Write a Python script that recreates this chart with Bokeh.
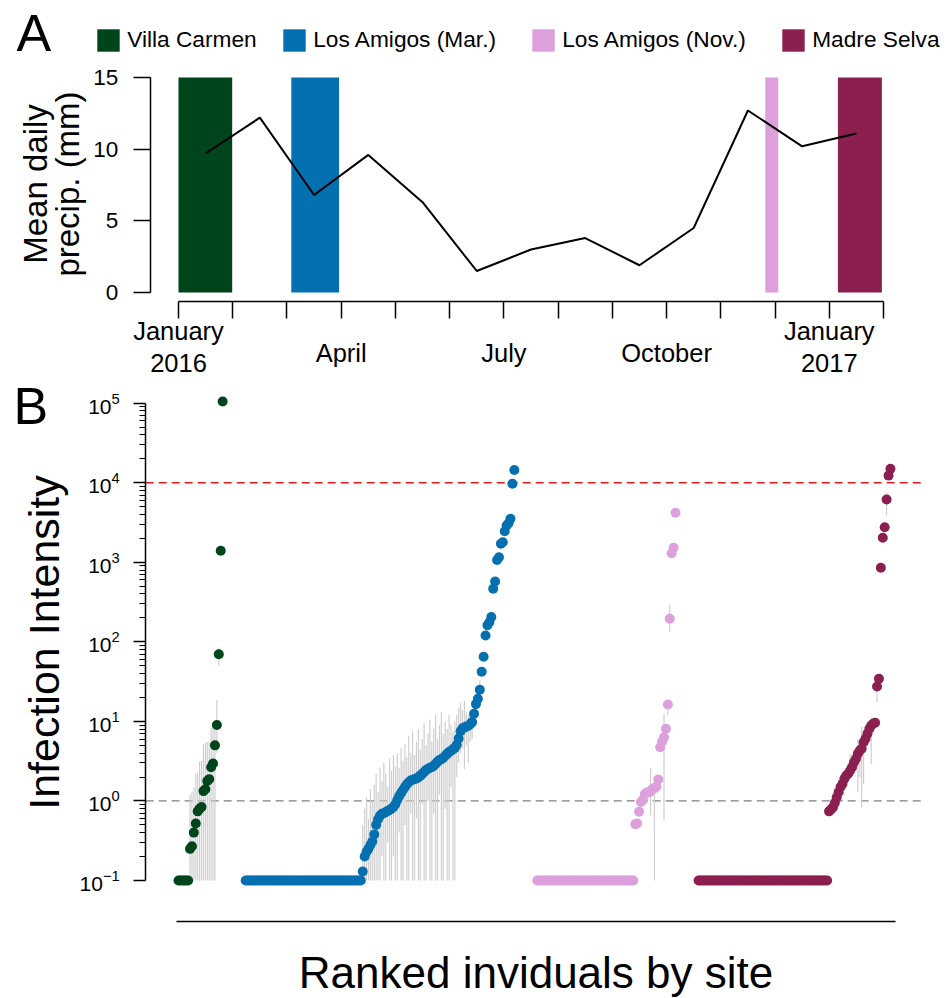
import math
import numpy as np
from bokeh.plotting import figure
from bokeh.models import Range1d, FixedTicker, Label, Legend, LegendItem
from bokeh.layouts import column
from bokeh.embed import file_html
from bokeh.resources import INLINE

FONT = "Liberation Sans"

# ---------------- Panel A data ----------------
month_ticks = list(range(14))  # Jan 2016 ... Feb 2017 (month starts)
month_labels = ["January\n2016", "", "", "April", "", "", "July", "", "",
                "October", "", "", "January\n2017", ""]
precip_month = [0.5, 1.5, 2.5, 3.5, 4.5, 5.5, 6.5, 7.5, 8.5, 9.5, 10.5, 11.5, 12.5]
precip_mm = [9.7, 12.2, 6.8, 9.6, 6.3, 1.5, 3.0, 3.8, 1.9, 4.5, 12.7, 10.2, 11.1]
precip_ticks = [0, 5, 10, 15]

site_names = ["Villa Carmen", "Los Amigos (Mar.)", "Los Amigos (Nov.)", "Madre Selva"]
site_colors = ["#00441B", "#0570B0", "#DDA0DD", "#8B1F50"]
survey_start = [0.0, 2.08, 10.82, 12.16]
survey_end = [0.99, 2.96, 11.06, 12.97]

# ---------------- Panel B data ----------------
zero_counts = [6, 61, 51, 68]
vc_pos = [0.25, 0.27, 0.40, 0.52, 0.74, 0.80, 0.84, 1.33, 1.40, 1.78, 1.88, 2.65, 2.95,
          5.0, 9.0, 70, 1400, 105000]
vc_lo = [0.1, 0.1, 0.1, 0.1, 0.1, 0.1, 0.1, 0.1, 0.1, 0.1, 0.1, 0.1, 0.1,
         0.1, 4.0, 50, 1400, 105000]
vc_hi = [1.2, 1.3, 1.5, 2.2, 2.3, 3.1, 3.2, 5.2, 5.4, 5.5, 5.6, 8.3, 9.5,
         9.0, 18.5, 85, 1400, 105000]

mar_pos = [0.13, 0.2, 0.23, 0.25, 0.28, 0.31, 0.38, 0.50, 0.59, 0.65,
           0.69, 0.70, 0.72, 0.75, 0.77, 0.80, 0.84, 0.91, 1.03, 1.15,
           1.26, 1.37, 1.50, 1.62, 1.72, 1.81, 1.85, 1.88, 1.92, 1.98,
           2.08, 2.19, 2.31, 2.44, 2.54, 2.61, 2.65, 2.78, 2.94, 3.11,
           3.26, 3.35, 3.50, 3.70, 3.91, 4.13, 4.28, 4.45, 4.65, 5.1,
           6.1, 7.5, 8.2, 8.4, 8.6, 8.8, 9.2, 9.8, 12.5, 16.5,
           19.2, 25, 42, 65, 120, 162, 176, 205, 465, 573,
           1070, 1160, 1710, 1790, 2460, 2900, 3100, 3520, 9700, 14500]
mar_lo = [0.1, 0.1, 0.1, 0.1, 0.1, 0.1, 0.1, 0.1, 0.1, 0.1,
          0.2, 0.1, 0.1, 0.3, 0.1, 0.1, 0.2, 0.1, 0.1, 0.4,
          0.1, 0.1, 0.5, 0.1, 0.1, 0.7, 0.1, 0.1, 0.6, 0.1,
          0.1, 0.9, 0.1, 0.1, 1.0, 0.1, 0.1, 0.7, 0.1, 0.1,
          1.2, 0.1, 0.1, 0.8, 0.1, 0.1, 1.5, 0.1, 0.1, 2.0,
          3.0, 4.0, 4.5, 2.5, 5.0, 3.0, 5.5, 6.0, 9.0, 12,
          15, 19, 42, 65, 120, 162, 176, 205, 465, 573,
          1070, 1160, 1710, 1790, 2460, 2900, 3100, 3520, 9700, 14500]
mar_hi = [0.5, 0.8, 1.1, 0.6, 1.4, 1.0, 1.6, 2.2, 1.3, 2.6,
          1.8, 3.0, 2.2, 1.5, 3.4, 2.4, 3.8, 2.7, 4.0, 2.6,
          4.6, 3.2, 5.2, 3.6, 6.5, 4.0, 7.5, 3.8, 5.5, 8.0,
          4.4, 6.0, 9.5, 5.0, 7.0, 10.5, 5.6, 8.0, 12, 6.0,
          9.0, 13, 7.0, 10, 8.0, 12, 9.0, 7.5, 10, 12,
          15, 17, 14, 18, 13, 12, 13, 14, 16, 21,
          24, 33, 42, 65, 150, 190, 176, 205, 465, 573,
          1070, 1160, 1710, 1790, 2460, 2900, 3100, 3520, 9700, 14500]

nov_pos = [0.51, 0.52, 0.73, 0.97, 1.03, 1.22, 1.28, 1.29, 1.32, 1.41, 1.45,
           1.51, 1.86, 4.74, 5.6, 6.3, 8.1, 16.3, 195, 1300, 1520, 4190]
nov_lo = [0.51, 0.52, 0.73, 0.97, 1.03, 1.22, 1.28, 1.29, 0.66, 1.41, 0.1,
          1.51, 1.86, 4.74, 5.6, 0.57, 8.1, 12.0, 134, 1300, 1520, 4190]
nov_hi = [0.51, 0.52, 0.73, 0.97, 1.03, 1.22, 1.28, 1.29, 2.6, 1.41, 1.45,
          1.51, 1.86, 4.74, 5.6, 12.3, 8.1, 16.3, 292, 1300, 1520, 4190]

ms_pos = [0.74, 0.78, 0.83, 0.94, 1.11, 1.29, 1.5, 1.64, 1.90, 2.09, 2.2,
          2.41, 2.66, 3.07, 3.39, 3.92, 4.31, 4.52, 5.48, 6.04, 6.98, 8.07,
          8.88, 9.33, 9.6, 27.5, 34.3, 853, 2030, 2760, 6150, 12300, 14960]
ms_lo = [0.74, 0.78, 0.83, 0.94, 1.11, 1.29, 1.5, 1.64, 1.90, 2.09, 2.2,
         2.0, 2.66, 3.07, 3.39, 1.29, 2.0, 0.83, 1.64, 6.04, 6.98, 8.07,
         2.9, 7.0, 9.6, 17.4, 34.3, 853, 2030, 2760, 3900, 12300, 14960]
ms_hi = [0.74, 0.78, 0.83, 0.94, 1.11, 1.29, 1.5, 1.64, 1.90, 2.09, 2.2,
         3.9, 2.66, 3.07, 3.39, 6.0, 5.0, 8.5, 7.0, 6.04, 6.98, 8.07,
         11.3, 10.7, 9.6, 27.5, 34.3, 853, 2030, 2760, 7500, 12300, 14960]

detect_floor = 0.1
intensity_ticks = [0.1, 1, 10, 100, 1000, 10000, 100000]
threshold_high = 10000
threshold_low = 1
site_gap = 11

# ---------------- layout (page pixels) ----------------
W = 940
PAGE_LEFT = 0
TOP_Y0, TOP_H = 0, 378
BOT_Y0, BOT_H = 378, 620
BASELINE_FIX = 0.36  # renderer places alphabetic baseline this many ems low


def style_axis(ax, size):
    ax.axis_line_color = "black"
    ax.axis_line_width = 1.5
    ax.major_tick_line_color = "black"
    ax.major_tick_line_width = 1.5
    ax.minor_tick_line_color = "black"
    ax.major_tick_in = 0
    ax.minor_tick_in = 0
    ax.minor_tick_out = 0
    ax.major_label_text_font = FONT
    ax.major_label_text_font_size = size
    ax.major_label_text_color = "black"


def lab(p, text, x, y, size, angle=0.0, align="left", xu="screen"):
    fix = BASELINE_FIX * size
    if angle:
        x = x - fix
    else:
        y = y + fix
    p.add_layout(Label(x=x, y=y, x_units=xu, y_units="screen", text=text, angle=angle,
                       text_align=align, text_baseline="alphabetic", text_font=FONT,
                       text_font_size=f"{size}px", text_color="black"))


# ================= Panel A =================
# page-pixel calibration: month 0 at x=178, 54.23 px / month; 0 mm at y=292, 14.333 px / mm
ax0, axppu = 178.0, 54.23
ay0, ayppu = 292.0, 14.333
x_lo = (PAGE_LEFT - ax0) / axppu
x_hi = (PAGE_LEFT + W - ax0) / axppu
y_lo = -(TOP_Y0 + TOP_H - ay0) / ayppu
y_hi = (ay0 - TOP_Y0) / ayppu

p1 = figure(width=W, height=TOP_H, output_backend="svg", toolbar_location=None,
            min_border=0, x_range=Range1d(x_lo, x_hi), y_range=Range1d(y_lo, y_hi))
p1.grid.visible = False
p1.outline_line_color = None

xpad = 0.04 * (month_ticks[-1] - month_ticks[0])
ypad = 0.04 * (precip_ticks[-1] - precip_ticks[0])

site_renderers = []
for s, e, c in zip(survey_start, survey_end, site_colors):
    r = p1.quad(left=[s], right=[e], bottom=[precip_ticks[0]], top=[precip_ticks[-1]],
                fill_color=c, line_color=None)
    site_renderers.append(r)

p1.line(precip_month, precip_mm, line_color="black", line_width=2)

ya = p1.yaxis[0]
style_axis(ya, "22.5px")
ya.fixed_location = month_ticks[0] - xpad
ya.ticker = FixedTicker(ticks=precip_ticks)
ya.bounds = (precip_ticks[0], precip_ticks[-1])
ya.major_tick_out = 17
ya.major_label_standoff = 15

xa = p1.xaxis[0]
style_axis(xa, "1px")
xa.fixed_location = precip_ticks[0] - ypad
xa.ticker = FixedTicker(ticks=month_ticks)
xa.bounds = (month_ticks[0], month_ticks[-1])
xa.major_tick_out = 17
xa.major_label_overrides = {t: "" for t in month_ticks}

for t, txt in zip(month_ticks, month_labels):
    if not txt:
        continue
    lines = txt.split("\n")
    ys = [16.3] if len(lines) == 1 else [38.0, 6.3]
    for line, yy in zip(lines, ys):
        lab(p1, line, t, yy, 25.5, align="center", xu="data")

lab(p1, "Mean daily", 46.7, 194.5, 33, angle=math.pi / 2, align="center")
lab(p1, "precip. (mm)", 79.0, 194.5, 33, angle=math.pi / 2, align="center")
lab(p1, "A", 16, 327, 52)

legend_left = [94.2, 280.2, 529.2, 779.2]
for name, r, lx in zip(site_names, site_renderers, legend_left):
    lg = Legend(items=[LegendItem(label=name, renderers=[r])], location=(lx, 324.3),
                orientation="horizontal", glyph_width=28, glyph_height=28, label_standoff=5,
                label_text_font=FONT, label_text_font_size="22.7px", label_text_color="black",
                border_line_alpha=0, background_fill_alpha=0, padding=0, margin=0, spacing=0)
    p1.add_layout(lg)

# ================= Panel B =================
site_pos = [vc_pos, mar_pos, nov_pos, ms_pos]
site_lo = [vc_lo, mar_lo, nov_lo, ms_lo]
site_hi = [vc_hi, mar_hi, nov_hi, ms_hi]

start = 0
site_x = []
for nz, pos in zip(zero_counts, site_pos):
    n = nz + len(pos)
    site_x.append(start + np.arange(n))
    start += n + site_gap
x_first = site_x[0][0]
x_last = site_x[-1][-1]
axis_lo, axis_hi = x_first - 1, x_last + 2.6
span = axis_hi - axis_lo
plot_left = axis_lo - 0.043 * span
plot_right = axis_hi + 0.04 * span

# page-pixel calibration: first individual at x=178, 1.919 px / individual;
# 10^-1 at y=880, 79.55 px / decade
bx0, bxppu = 178.0, 1.919
by0, byppd = 880.0, 79.55
bx_lo = x_first + (PAGE_LEFT - bx0) / bxppu
bx_hi = x_first + (PAGE_LEFT + W - bx0) / bxppu
by_lo = -1 - (BOT_Y0 + BOT_H - by0) / byppd
by_hi = -1 + (by0 - BOT_Y0) / byppd
floor_exp = -1 - 0.515

p2 = figure(width=W, height=BOT_H, output_backend="svg", toolbar_location=None,
            y_axis_type="log", min_border=0,
            x_range=Range1d(bx_lo, bx_hi), y_range=Range1d(10 ** by_lo, 10 ** by_hi))
p2.grid.visible = False
p2.outline_line_color = None

p2.segment(x0=[plot_left], y0=[threshold_high], x1=[plot_right], y1=[threshold_high],
           line_color="#E41A1C", line_dash="8 5", line_width=1.3)
p2.segment(x0=[plot_left], y0=[threshold_low], x1=[plot_right], y1=[threshold_low],
           line_color="#7F7F7F", line_dash="8 5", line_width=1.3)

for xs, nz, pos, lo, hi in zip(site_x, zero_counts, site_pos, site_lo, site_hi):
    xp = xs[nz:]
    lo_a, hi_a = np.array(lo, float), np.array(hi, float)
    m = hi_a > lo_a
    p2.segment(x0=xp[m], y0=lo_a[m], x1=xp[m], y1=hi_a[m], line_color="#CFCFCF", line_width=1.2)

for xs, nz, pos, c in zip(site_x, zero_counts, site_pos, site_colors):
    yv = [detect_floor] * nz + list(pos)
    p2.scatter(xs, yv, size=10, fill_color=c, line_color=None)

ya2 = p2.yaxis[0]
style_axis(ya2, "21px")
ya2.fixed_location = plot_left
minor = [m * 10.0 ** e for e in range(-1, 5) for m in range(2, 10)]
ya2.ticker = FixedTicker(ticks=intensity_ticks, minor_ticks=minor)
ya2.bounds = (intensity_ticks[0], intensity_ticks[-1])
ya2.major_tick_out = 12
ya2.minor_tick_out = 6
ya2.minor_tick_line_width = 1.2
ya2.major_label_standoff = 14

xa2 = p2.xaxis[0]
style_axis(xa2, "1px")
xa2.fixed_location = 10 ** floor_exp
xa2.ticker = FixedTicker(ticks=[])
xa2.bounds = (axis_lo, axis_hi)
xa2.major_tick_out = 0

lab(p2, "B", 13, 574, 52)
lab(p2, "Infection Intensity", 58.8, 356, 43, angle=math.pi / 2, align="center")
lab(p2, "Ranked inviduals by site", 535.5, 10, 44, align="center")

layout = column(p1, p2)
open("out.html", "w").write(file_html(layout, INLINE))
